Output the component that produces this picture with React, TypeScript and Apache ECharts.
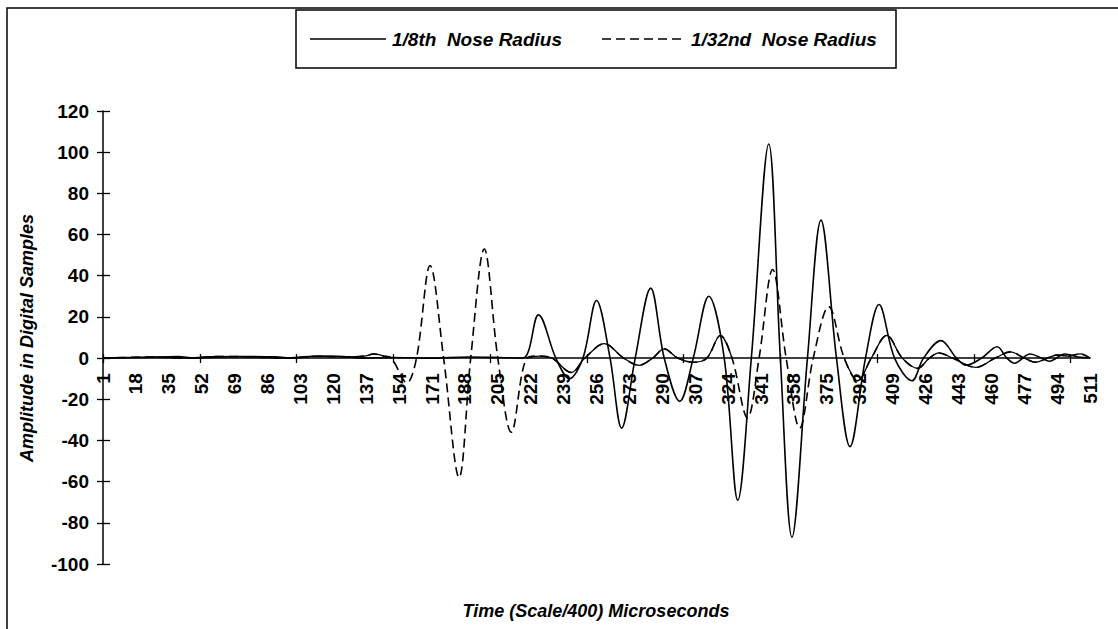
import React, { useEffect, useRef } from "react";
import * as echarts from "echarts";

// Category axis: sample numbers 1..511
const sampleCount = 511;
const categories: string[] = Array.from({ length: sampleCount }, (_, k) => String(k + 1));

// 1/8th Nose Radius (solid) — key samples
const solidSamples = [1, 20, 40, 48, 70, 90, 100, 112, 125, 135, 150, 170, 190, 205, 218, 226, 235, 242, 249, 256, 263, 269, 276, 284, 291, 299, 306, 314, 322, 329, 336, 345, 351, 357, 365, 372, 380, 387, 395, 402, 410, 419, 425, 434, 442, 447, 455, 463, 468, 472, 480, 486, 490, 498, 505, 511];
const solidValues = [0, 0.3, 0.8, 0, 0.8, 0.6, 0, 1, 0.8, 0, 0.3, 0, 0.5, 0.3, 0, 21, 0, -10, 0, 28, 0, -34, 0, 34, 0, -21, 0, 30, 0, -69, 0, 104, 0, -87, 0, 67, 0, -43, 0, 26, 0, -11, 0, 8.5, 0, -3.5, 0, 5.5, 0, -2.5, 2, 0, -1.5, 2, 0.5, 0];

// 1/32nd Nose Radius (dashed)
const dashSamples = [1, 25, 45, 60, 80, 95, 110, 128, 136, 141, 146, 150, 158, 163, 170, 177, 185, 191, 198, 205, 212, 220, 226, 233, 243, 250, 260, 270, 278, 285, 291, 298, 306, 313, 320, 326, 334, 340, 347, 354, 361, 368, 376, 384, 391, 398, 406, 414, 422, 428, 433, 440, 452, 462, 470, 477, 483, 489, 494, 500, 506, 511];
const dashValues = [0, 0.5, 0, 0.8, 0.5, 0, 0.8, 0.6, 1, 2, 1, 0, -12, 0, 45, 0, -58, 0, 53, 0, -36, 0, 1, 0, -7, 0, 7, 0, -3.5, 0, 4.5, 0, -2, 0, 11, 0, -29, 0, 43, 0, -34, 0, 25, 0, -11, 0, 11, 0, -5, 0, 2.5, 0, -4.5, 0, 3, 0, -2, 0, 1.5, 1, 2, 0];

// stretches of the dashed series where its dashes merge into a solid-looking stroke in the scan
const dashMergedRanges: [number, number][] = [[1, 150], [220, 326], [384, 511]];

const seriesNames = ["1/8th  Nose Radius", "1/32nd  Nose Radius"];
const xTitle = "Time (Scale/400) Microseconds";
const yTitle = "Amplitude in Digital Samples";
const yMin = -100;
const yMax = 120;
const yStep = 20;

const FONT = "Liberation Sans";

export default function App() {
  const ref = useRef<HTMLDivElement>(null);

  useEffect(() => {
    if (!ref.current) return;
    const chart = echarts.init(ref.current, null, { renderer: "svg" });

    const solidData = solidSamples.map((s, k) => [String(s), solidValues[k]]);
    const dashData = dashSamples.map((s, k) => [String(s), dashValues[k]]);
    // same points, with gaps (null) outside the merged stretches
    const mergedData = dashSamples.map((s, k) => {
      const inside = dashMergedRanges.some(([a, b]) => s >= a && s <= b);
      return [String(s), inside ? dashValues[k] : null];
    });

    const gridTop = 111;
    const gridBottom = 65;
    const gridHeight = 629 - gridTop - gridBottom;
    const zeroOffset = -(gridHeight * (0 - yMin)) / (yMax - yMin);

    const axisLineStyle = { color: "#000", width: 1.5 };
    const tickStyle = { color: "#000", width: 1.3 };
    const titleStyle = {
      fill: "#000",
      fontSize: 18,
      fontStyle: "italic",
      fontWeight: "bold",
      fontFamily: FONT,
      verticalAlign: "middle",
    };
    const legendText = { ...titleStyle, fontSize: 19 };

    chart.setOption({
      animation: false,
      backgroundColor: "#fff",
      grid: { left: 103, right: 28, top: gridTop, bottom: gridBottom },
      xAxis: [
        {
          type: "category",
          data: categories,
          boundaryGap: false,
          position: "bottom",
          offset: zeroOffset,
          axisLine: { show: true, onZero: false, lineStyle: axisLineStyle },
          axisTick: { show: true, interval: 49, length: 5, lineStyle: tickStyle },
          axisLabel: {
            interval: 16,
            rotate: 90,
            color: "#000",
            fontSize: 19,
            fontWeight: "bold",
            fontFamily: FONT,
            margin: 15,
          },
          splitLine: { show: false },
        },
        {
          type: "category",
          data: categories,
          boundaryGap: false,
          position: "bottom",
          offset: zeroOffset,
          axisLine: { show: false, onZero: false },
          axisTick: { show: true, inside: true, interval: 49, length: 4, lineStyle: tickStyle },
          axisLabel: { show: false },
          splitLine: { show: false },
        },
      ],
      yAxis: [
        {
          type: "value",
          min: yMin,
          max: yMax,
          interval: yStep,
          axisLine: { show: true, lineStyle: axisLineStyle },
          axisTick: { show: true, length: 6, lineStyle: tickStyle },
          axisLabel: { color: "#000", fontSize: 19, fontWeight: "bold", fontFamily: FONT, margin: 14 },
          splitLine: { show: false },
        },
        {
          type: "value",
          min: yMin,
          max: yMax,
          interval: yStep,
          position: "left",
          axisLine: { show: false },
          axisTick: { show: true, inside: true, length: 7, lineStyle: tickStyle },
          axisLabel: { show: false },
          splitLine: { show: false },
        },
      ],
      series: [
        {
          name: seriesNames[0],
          type: "line",
          data: solidData,
          smooth: 0.35,
          showSymbol: false,
          lineStyle: { color: "#000", width: 1.6, type: "solid" },
        },
        {
          name: seriesNames[1],
          type: "line",
          data: dashData,
          smooth: 0.35,
          showSymbol: false,
          lineStyle: { color: "#000", width: 1.6, type: [9, 5] },
        },
        {
          name: seriesNames[1] + " (merged)",
          type: "line",
          data: mergedData,
          connectNulls: false,
          smooth: 0.35,
          showSymbol: false,
          silent: true,
          lineStyle: { color: "#000", width: 1.3, type: "solid" },
        },
      ],
      graphic: [
        {
          type: "rect",
          silent: true,
          z: -10,
          shape: { x: 7, y: 8, width: 1300, height: 800 },
          style: { fill: "none", stroke: "#000", lineWidth: 1.5 },
        },
        {
          type: "rect",
          shape: { x: 296, y: 10, width: 600, height: 58 },
          style: { fill: "#fff", stroke: "#000", lineWidth: 1.5 },
        },
        {
          type: "line",
          shape: { x1: 310, y1: 39, x2: 386, y2: 39 },
          style: { stroke: "#000", lineWidth: 1.6 },
        },
        {
          type: "text",
          x: 392,
          y: 39,
          style: { ...legendText, text: seriesNames[0], align: "left" },
        },
        {
          type: "line",
          shape: { x1: 602, y1: 39, x2: 684, y2: 39 },
          style: { stroke: "#000", lineWidth: 1.6, lineDash: [9, 5] },
        },
        {
          type: "text",
          x: 691,
          y: 39,
          style: { ...legendText, text: seriesNames[1], align: "left" },
        },
        {
          type: "text",
          x: 596,
          y: 611,
          style: { ...titleStyle, text: xTitle, align: "center" },
        },
        {
          type: "text",
          x: 27,
          y: 338,
          rotation: Math.PI / 2,
          style: { ...titleStyle, text: yTitle, align: "center" },
        },
      ],
    });

    return () => chart.dispose();
  }, []);

  return <div ref={ref} style={{ width: 1118, height: 629, position: "absolute", left: 0, top: 0 }} />;
}
